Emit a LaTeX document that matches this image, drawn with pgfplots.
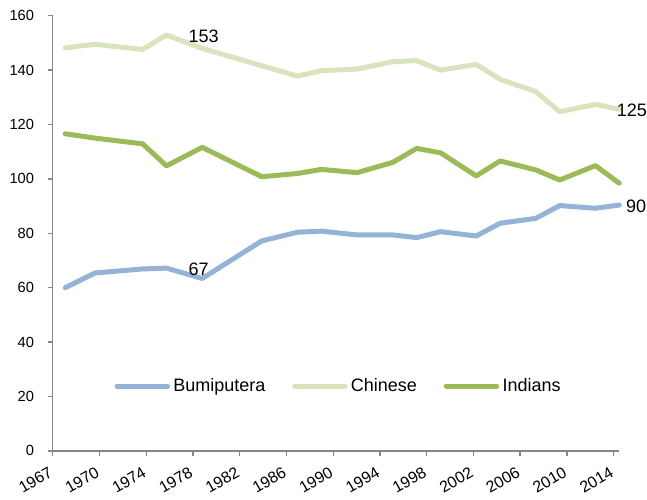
\documentclass[border=0pt]{standalone}
\usepackage{pgfplots}
\pgfplotsset{compat=1.18}
\usepackage{fontspec}
\setmainfont{Liberation Sans}
\definecolor{bumi}{HTML}{95B3D7}
\definecolor{chin}{HTML}{D7E4BD}
\definecolor{ind}{HTML}{9BBB59}
\definecolor{axgray}{HTML}{868686}
\begin{document}
\begin{tikzpicture}
\begin{axis}[
  name=ax,
  scale only axis,
  width=425pt, height=326.4pt,
  xmin=1966.45, xmax=2014,
  ymin=0, ymax=160,
  axis x line*=bottom, axis y line*=left,
  axis line style={axgray, line width=1pt},
  every tick/.style={axgray, line width=1pt},
  tick align=outside,
  major tick length=3.5pt,
  xtick={1966.45,1970.37,1974.30,1978.22,1982.14,1986.07,1989.99,1993.91,1997.83,2001.76,2005.68,2009.60,2013.53},
  xticklabels={1967,1970,1974,1978,1982,1986,1990,1994,1998,2002,2006,2010,2014},
  ytick={0,20,...,160},
  /pgf/number format/assume math mode=true,
  yticklabel style={font=\fontsize{11}{13}\selectfont, anchor=east, inner sep=0pt, xshift=-10.3pt},
  xticklabel style={font=\fontsize{12}{14}\selectfont, xshift=-1.2pt, yshift=-11.5pt, rotate=30, anchor=east, inner sep=0pt},
  clip=false,
  legend columns=3,
  legend style={draw=none, fill=none, at={(0.504,0.149)}, anchor=center,
    font=\fontsize{13.5}{16}\selectfont,
    nodes={inner sep=1pt},
    /tikz/every odd column/.append style={column sep=1.5pt},
    /tikz/every even column/.append style={column sep=19pt}},
  legend image code/.code={\draw[#1, line width=3.75pt, line cap=round] (1.9pt,0pt) -- (39.8pt,0pt);},
  every axis plot/.append style={line width=3.75pt, line join=round, line cap=round, mark=none},
]
\addplot[bumi] table {
x y
1967.5 60.0
1970 65.4
1974 66.9
1976 67.2
1979 63.4
1984 77.2
1987 80.4
1989 80.8
1992 79.4
1995 79.4
1997 78.4
1999 80.6
2002 79.0
2004 83.7
2007 85.5
2009 90.2
2012 89.2
2014 90.4
};
\addlegendentry{Bumiputera}
\addplot[chin] table {
x y
1967.5 148.2
1970 149.5
1974 147.6
1976 152.9
1979 148.0
1984 141.6
1987 137.8
1989 139.8
1992 140.4
1995 143.1
1997 143.5
1999 140.0
2002 142.1
2004 136.6
2007 132.1
2009 124.7
2012 127.4
2014 125.6
};
\addlegendentry{Chinese}
\addplot[ind] table {
x y
1967.5 116.6
1970 115.0
1974 112.9
1976 104.8
1979 111.6
1984 100.8
1987 102.0
1989 103.5
1992 102.3
1995 106.1
1997 111.2
1999 109.6
2002 101.1
2004 106.6
2007 103.3
2009 99.6
2012 104.9
2014 98.4
};
\addlegendentry{Indians}
\node[anchor=west, inner sep=0pt, font=\fontsize{13.5}{16}\selectfont, xshift=16.5pt, yshift=-0.8pt] at (axis cs:1976,152.9) {153};
\node[anchor=west, inner sep=0pt, font=\fontsize{13.5}{16}\selectfont, xshift=16.5pt, yshift=-0.6pt] at (axis cs:1976,67.2) {67};
\node[anchor=west, inner sep=0pt, font=\fontsize{13.5}{16}\selectfont, xshift=-2pt, yshift=-1.1pt] at (axis cs:2014,125.6) {125};
\node[anchor=west, inner sep=0pt, font=\fontsize{13.5}{16}\selectfont, xshift=5pt, yshift=-0.6pt] at (axis cs:2014,90.4) {90};
\end{axis}
\pgfresetboundingbox
\path[use as bounding box] ([xshift=-39.5pt,yshift=-36.1pt]ax.south west) rectangle ([xshift=20.8pt,yshift=11.8pt]ax.north east);
\end{tikzpicture}
\end{document}
